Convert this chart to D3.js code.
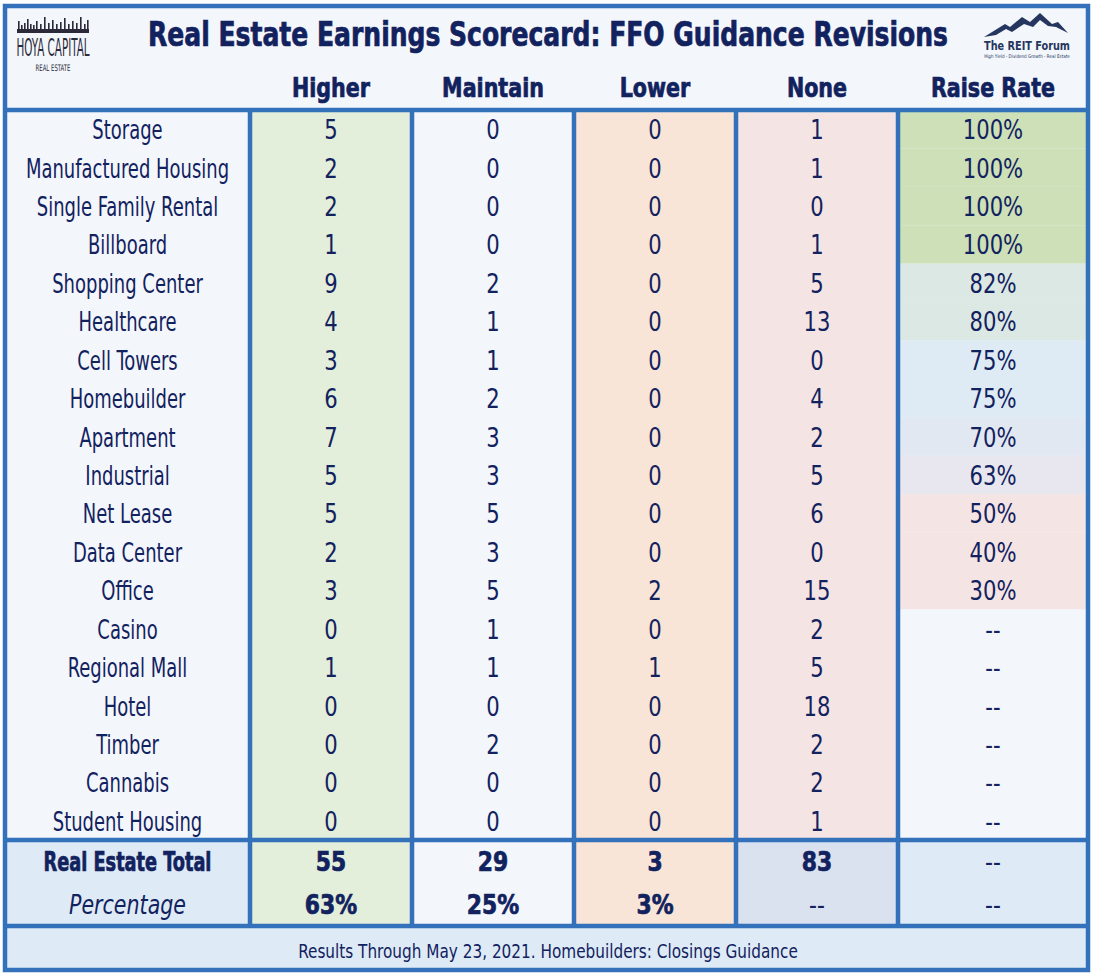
<!DOCTYPE html>
<html>
<head>
<meta charset="utf-8">
<script src="https://cdn.jsdelivr.net/npm/d3@7"></script>
<style>
  body { margin: 0; background: #fff; }
  svg text { font-family: "DejaVu Sans Condensed", "DejaVu Sans", sans-serif; fill: #12225e; }
  svg text.heavy { stroke: #12225e; stroke-width: 0.7; }
</style>
</head>
<body>
<script>
"use strict";

const categories = ["Storage", "Manufactured Housing", "Single Family Rental", "Billboard",
    "Shopping Center", "Healthcare", "Cell Towers", "Homebuilder", "Apartment", "Industrial",
    "Net Lease", "Data Center", "Office", "Casino", "Regional Mall", "Hotel", "Timber",
    "Cannabis", "Student Housing"];
const higher   = [5, 2, 2, 1, 9, 4, 3, 6, 7, 5, 5, 2, 3, 0, 1, 0, 0, 0, 0];
const maintain = [0, 0, 0, 0, 2, 1, 1, 2, 3, 3, 5, 3, 5, 1, 1, 0, 2, 0, 0];
const lower    = [0, 0, 0, 0, 0, 0, 0, 0, 0, 0, 0, 0, 2, 0, 1, 0, 0, 0, 0];
const none     = [1, 1, 0, 1, 5, 13, 0, 4, 2, 5, 6, 0, 15, 2, 5, 18, 2, 2, 1];
const raiseRate = [1, 1, 1, 1, 0.82, 0.80, 0.75, 0.75, 0.70, 0.63, 0.50, 0.40, 0.30,
    null, null, null, null, null, null];
const columns = ["Higher", "Maintain", "Lower", "None", "Raise Rate"];
const totals = [55, 29, 3, 83, null];
const percentages = ["63%", "25%", "3%", "--", "--"];

const W = 1094, H = 978;
const navy = "#12225e", blue = "#3371bb";

let svg = d3.select("body").append("svg").attr("width", W).attr("height", H);

// column edges (first is the category column)
let edges = [5, 250, 412, 574, 736, 898, 1088];
let colX = i => edges[i];
let colW = i => edges[i + 1] - edges[i];
let colC = i => (edges[i] + edges[i + 1]) / 2;

let y = d3.scaleBand().domain(categories).range([110, 840]);

let colFill = ["#f3f6fb", "#e3eedb", "#f3f6fb", "#f9e5d7", "#f5e4e4", "#f3f6fb"];
let totalFill = ["#deebf6", "#e3eedb", "#f3f6fb", "#f9e5d7", "#dae1ef", "#deebf6"];
let rateColor = d3.scaleThreshold()
    .domain([0.35, 0.55, 0.66, 0.72, 0.78, 0.9])
    .range(["#f5e4e4", "#f5e4e4", "#e8e7ef", "#e2e8f2", "#deebf5", "#dce8e4", "#cde0b8"]);

// background
svg.append("rect").attr("x", 5).attr("y", 6).attr("width", 1083).attr("height", 964).attr("fill", "#f3f6fb");

// column backgrounds for body
let body = svg.append("g");
colFill.forEach((c, i) => {
    body.append("rect").attr("x", colX(i)).attr("y", 110).attr("width", colW(i)).attr("height", 730).attr("fill", c);
});
body.selectAll("rect.rate").data(raiseRate).enter().append("rect")
    .attr("class", "rate")
    .attr("x", colX(5)).attr("width", colW(5))
    .attr("y", (d, i) => y(categories[i])).attr("height", y.bandwidth())
    .attr("fill", d => d == null ? colFill[5] : rateColor(d));

// totals block
totalFill.forEach((c, i) => {
    body.append("rect").attr("x", colX(i)).attr("y", 840).attr("width", colW(i)).attr("height", 86).attr("fill", c);
});
// footer
body.append("rect").attr("x", 5).attr("y", 926).attr("width", 1083).attr("height", 44).attr("fill", "#deebf6");

// ---- text helpers ----
function txt(g, x, yy, s, size, opts) {
    opts = opts || {};
    let sx = opts.sx || 1;
    let t = g.append("text")
        .attr("transform", `translate(${x},${yy}) scale(${sx},1)`)
        .attr("text-anchor", opts.anchor || "middle")
        .attr("font-size", size)
        .attr("font-weight", opts.weight || "normal")
        .text(s);
    if (opts.heavy) t.attr("class", "heavy");
    if (opts.italic) t.attr("font-style", "italic");
    if (opts.fit) {
        // squeeze to the width seen in the reference
        let len = t.node().getComputedTextLength();
        t.attr("transform", `translate(${x},${yy}) scale(${opts.fit / len},1)`);
    }
    return t;
}

// title
let head = svg.append("g");
txt(head, 548, 46, "Real Estate Earnings Scorecard: FFO Guidance Revisions", 33, { weight: "bold", fit: 800, heavy: true });

// column headers
columns.forEach((c, i) => {
    txt(head, colC(i + 1), 97, c, 27, { weight: "bold", sx: 0.85, heavy: true });
});

// rows
let rows = svg.append("g");
let series = [higher, maintain, lower, none];
categories.forEach((c, i) => {
    let cy = y(c) + y.bandwidth() / 2 + 10;
    txt(rows, colC(0), cy, c, 27, { sx: 0.74 });
    series.forEach((s, j) => txt(rows, colC(j + 1), cy, s[i], 27, { sx: 0.87 }));
    let r = raiseRate[i];
    txt(rows, colC(5), cy, r == null ? "--" : d3.format(".0%")(r), 27, { sx: 0.87 });
});

// totals
txt(rows, colC(0), 871, "Real Estate Total", 26, { weight: "bold", fit: 168, heavy: true });
txt(rows, colC(0), 914, "Percentage", 27, { italic: true, fit: 117 });
totals.forEach((t, j) => {
    txt(rows, colC(j + 1), 871, t == null ? "--" : t, 27, { weight: t == null ? "normal" : "bold", sx: 0.9, heavy: t != null });
});
percentages.forEach((p, j) => {
    txt(rows, colC(j + 1), 914, p, 27, { weight: p == "--" ? "normal" : "bold", sx: 0.9, heavy: p != "--" });
});

// footer text
txt(rows, 548, 958, "Results Through May 23, 2021. Homebuilders: Closings Guidance", 19, { fit: 500 });

// ---- grid lines ----
let lines = svg.append("g").attr("stroke", blue).attr("stroke-width", 4.5);
lines.append("rect").attr("x", 5).attr("y", 6).attr("width", 1083).attr("height", 964).attr("fill", "none");
[110, 840, 926].forEach(v => lines.append("line").attr("x1", 5).attr("x2", 1088).attr("y1", v).attr("y2", v));
edges.slice(1, -1).forEach(v => lines.append("line").attr("x1", v).attr("x2", v).attr("y1", 110).attr("y2", 926));

// ---- logos ----
let hoya = svg.append("g");
let sky = [[18,8],[21,4],[24,6],[27,10],[30,5],[33,4],[36,8],[40,5],[44,12],[48,6],[52,9],[56,5],[60,7],[64,11],[68,5],[72,8],[76,6],[80,12],[84,5],[87,9]];
sky.forEach(d => hoya.append("rect").attr("x", d[0]).attr("y", 31 - d[1] - 2).attr("width", 1.6).attr("height", d[1] + 2).attr("fill", "#2a2a3a"));
hoya.append("rect").attr("x", 17).attr("y", 29).attr("width", 72).attr("height", 4).attr("fill", "#2a2a3a");
txt(hoya, 53, 56, "HOYA CAPITAL", 25, { fit: 73 }).style("fill", "#2a2a3a");
txt(hoya, 53, 71, "REAL ESTATE", 9, { fit: 35 }).style("fill", "#2a2a3a");

let reit = svg.append("g");
reit.append("path")
    .attr("d", "M984,37 L1005,24 L1010,27 L1022,17 L1030,22 L1040,13 L1052,24 L1058,22 L1068,33 L1056,27 L1048,26 L1040,20 L1033,27 L1024,24 L1012,32 L1006,29 L996,35 Z")
    .attr("fill", "#26375f");
txt(reit, 1027, 50, "The REIT Forum", 13, { weight: "bold", fit: 86 }).style("fill", "#26375f");
txt(reit, 1027, 58, "High Yield - Dividend Growth - Real Estate", 5, { fit: 86 }).style("fill", "#26375f");
</script>
</body>
</html>
